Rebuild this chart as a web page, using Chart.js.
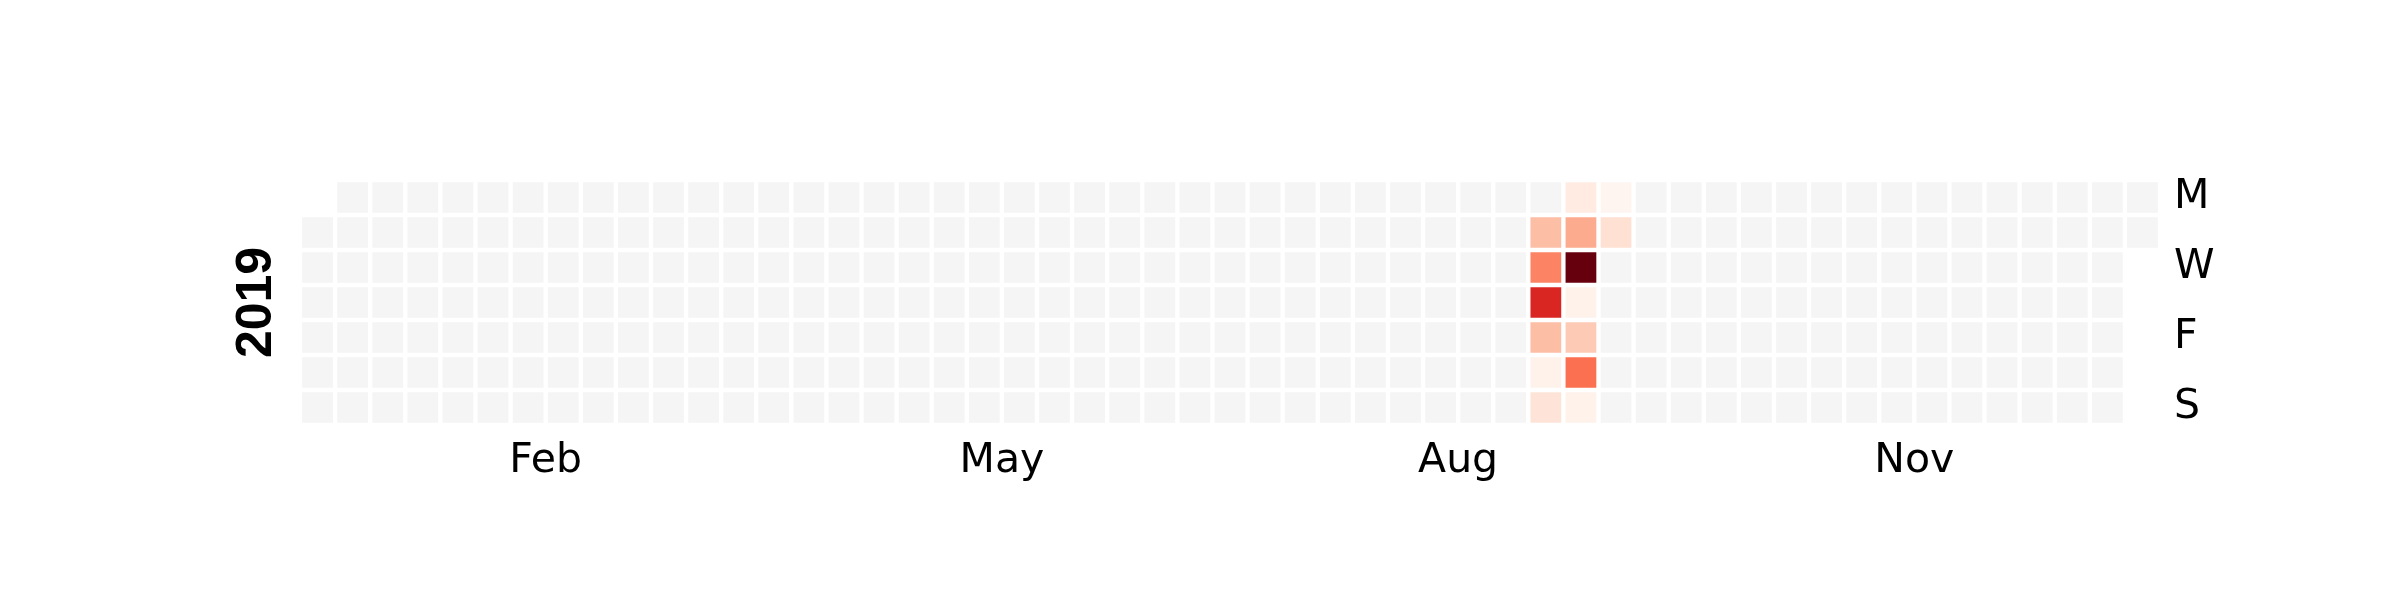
<!DOCTYPE html>
<html>
<head>
<meta charset="utf-8">
<script src="https://cdn.jsdelivr.net/npm/chart.js@4.4.1/dist/chart.umd.min.js"></script>
<style>
  html, body { margin: 0; padding: 0; background: #ffffff; }
  #wrap { width: 2400px; height: 600px; }
</style>
</head>
<body>
<div id="wrap"><canvas id="calChart" width="2400" height="600"></canvas></div>
<script>
// year shown and the days that have a value
var year = 2019;
var activeDates = ["2019-09-03", "2019-09-04", "2019-09-05", "2019-09-06", "2019-09-07", "2019-09-08",
    "2019-09-09", "2019-09-10", "2019-09-11", "2019-09-12", "2019-09-13", "2019-09-14", "2019-09-15",
    "2019-09-16", "2019-09-17"];
var activeValues = [12, 21, 35, 12, 1, 5, 3, 15, 50, 1, 10, 24, 1, 0, 6];

// axis labels
var dayLabels = ["M", "W", "F", "S"];
var dayTickRows = [0, 2, 4, 6];
var monthLabels = ["Feb", "May", "Aug", "Nov"];
var monthTickWeeks = [6.5, 19.5, 32.5, 45.5];

// matplotlib "Reds"
var reds = ["#fff5f0", "#fee0d2", "#fcbba1", "#fc9272", "#fb6a4a", "#ef3b2c", "#cb181d", "#a50f15", "#67000d"];
var emptyColor = "#f5f5f5";

function hexToRgb(h) {
    return [parseInt(h.substr(1, 2), 16), parseInt(h.substr(3, 2), 16), parseInt(h.substr(5, 2), 16)];
}
function redsColor(t) {
    t = Math.max(0, Math.min(1, t));
    var p = t * (reds.length - 1);
    var i = Math.min(Math.floor(p), reds.length - 2);
    var f = p - i;
    var a = hexToRgb(reds[i]), b = hexToRgb(reds[i + 1]);
    var c = [0, 1, 2].map(k => Math.round(a[k] + (b[k] - a[k]) * f));
    return "rgb(" + c[0] + "," + c[1] + "," + c[2] + ")";
}

var vmin = Math.min.apply(null, activeValues);
var vmax = Math.max.apply(null, activeValues);
var valueByDate = {};
activeDates.forEach((d, i) => { valueByDate[d] = activeValues[i]; });

function pad(n) { return n < 10 ? "0" + n : "" + n; }

// one dataset per weekday row, one bar per week
var jan1 = new Date(Date.UTC(year, 0, 1));
var offset = (jan1.getUTCDay() + 6) % 7; // monday = 0
var datasets = [];
for (var r = 0; r < 7; r++) {
    var pts = [];
    var cols = [];
    for (var w = 0; w < 53; w++) {
        var doy = w * 7 + r - offset;
        var d = new Date(Date.UTC(year, 0, 1 + doy));
        if (d.getUTCFullYear() !== year) continue;
        var key = d.getUTCFullYear() + "-" + pad(d.getUTCMonth() + 1) + "-" + pad(d.getUTCDate());
        var v = valueByDate[key];
        pts.push({x: w, y: [r - 0.5, r + 0.5]});
        cols.push(v === undefined ? emptyColor : redsColor((v - vmin) / (vmax - vmin)));
    }
    datasets.push({
        data: pts,
        backgroundColor: cols,
        borderColor: "#ffffff",
        borderWidth: 2.5,
        borderSkipped: false,
        barPercentage: 1,
        categoryPercentage: 1,
        grouped: false,
        yAxisID: "y"
    });
}

new Chart(document.getElementById("calChart"), {
    type: "bar",
    data: {datasets: datasets},
    options: {
        responsive: false,
        devicePixelRatio: 1,
        animation: false,
        layout: {padding: {top: 180, left: 227, right: 0, bottom: 0}},
        plugins: {legend: {display: false}, tooltip: {enabled: false}},
        scales: {
            x: {
                type: "linear",
                min: -0.5,
                max: 52.5,
                offset: false,
                grid: {display: false, drawTicks: false},
                border: {display: false},
                afterBuildTicks: function (s) {
                    s.ticks = monthTickWeeks.map(v => ({value: v}));
                },
                afterFit: function (s) { s.height = 175; },
                ticks: {
                    autoSkip: false,
                    maxRotation: 0,
                    padding: 12,
                    color: "#000000",
                    font: {family: "DejaVu Sans", size: 41},
                    callback: function (v, i) { return monthLabels[i]; }
                }
            },
            y: {
                type: "linear",
                position: "right",
                reverse: true,
                min: -0.5,
                max: 6.5,
                grid: {display: false, drawTicks: false},
                border: {display: false},
                afterBuildTicks: function (s) {
                    s.ticks = dayTickRows.map(v => ({value: v}));
                },
                afterFit: function (s) { s.width = 240; },
                ticks: {
                    autoSkip: false,
                    padding: 14,
                    color: "#000000",
                    font: {family: "DejaVu Sans", size: 41},
                    callback: function (v, i) { return dayLabels[i]; }
                }
            },
            yl: {
                type: "linear",
                position: "left",
                min: 0,
                max: 1,
                grid: {display: false, drawTicks: false},
                border: {display: false},
                ticks: {display: false},
                afterFit: function (s) { s.width = 73; },
                title: {
                    display: true,
                    text: String(year),
                    color: "#000000",
                    padding: 0,
                    font: {family: "Liberation Sans", size: 50, weight: "bold"}
                }
            }
        }
    }
});
</script>
</body>
</html>
